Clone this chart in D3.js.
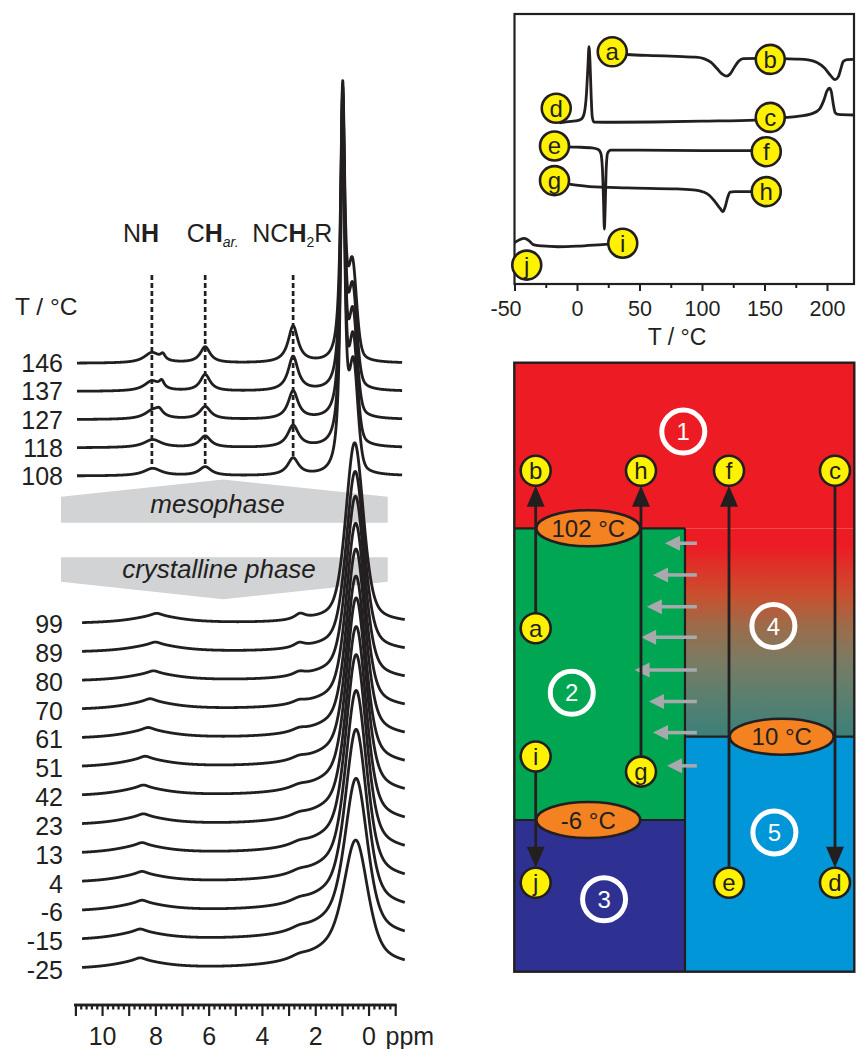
<!DOCTYPE html>
<html>
<head>
<meta charset="utf-8">
<script src="https://cdn.jsdelivr.net/npm/d3@7/dist/d3.min.js"></script>
<style>
  html, body { margin: 0; padding: 0; background: #fff; }
  svg { display: block; font-family: "Liberation Sans", Arial, Helvetica, sans-serif; }
</style>
</head>
<body>
<svg id="fig" width="857" height="1049"></svg>
<script>
// ================= DATA =================

// --- variable-temperature 1H NMR ---
const mesoTemps  = [146, 137, 127, 118, 108];
const crystTemps = [99, 89, 80, 70, 61, 51, 42, 23, 13, 4, -6, -15, -25];

// peak lists: [shift / ppm, intensity (main peak at 146 °C ≈ 100), FWHM / ppm, Lorentzian fraction]
const mesoPeaks = {
  146: [[8.13, 3.6, 0.70, 1], [7.72, 2.0, 0.22, 1], [6.13, 5.6, 0.45, 1], [2.83, 12.8, 0.45, 1], [0.97, 96,  0.19, 1], [0.60, 31, 0.36, 0.3]],
  137: [[8.13, 3.5, 0.70, 1], [7.76, 2.4, 0.22, 1], [6.13, 5.8, 0.45, 1], [2.83, 12.0, 0.45, 1], [0.97, 104, 0.19, 1], [0.59, 32, 0.36, 0.3]],
  127: [[8.08, 3.2, 0.75, 1], [7.85, 1.8, 0.30, 1], [6.13, 4.4, 0.50, 1], [2.83,  9.8, 0.45, 1], [0.97, 112, 0.19, 1], [0.58, 33, 0.36, 0.3]],
  118: [[8.10, 2.8, 0.80, 1], [6.13, 4.0, 0.50, 1], [2.83,  7.6, 0.50, 1], [0.97, 119, 0.19, 1], [0.57, 34, 0.36, 0.3]],
  108: [[8.10, 2.6, 0.80, 1], [6.13, 3.1, 0.55, 1], [2.83,  6.0, 0.50, 1], [0.97, 127, 0.19, 1], [0.56, 35, 0.38, 0.3]]
};
const crystPeaks = {
  99:  [[7.95, 2.6, 2.4, 1], [7.95, 1.0, 0.5, 1], [2.57, 2.0, 0.50, 1], [1.0, 1.75, 3.0, 1], [0.52, 61.9, 0.78, 0.4]],
  89:  [[8.00, 2.6, 2.4, 1], [8.00, 1.0, 0.5, 1], [2.60, 1.6, 0.50, 1], [1.0, 2.5,  3.0, 1], [0.50, 61.3, 0.79, 0.4]],
  80:  [[8.07, 2.6, 2.4, 1], [8.07, 1.0, 0.5, 1], [2.60, 1.3, 0.55, 1], [1.0, 3.2,  3.0, 1], [0.49, 62.1, 0.80, 0.4]],
  70:  [[8.20, 2.8, 2.4, 1], [8.20, 1.1, 0.5, 1], [2.60, 1.1, 0.60, 1], [1.0, 3.9,  3.0, 1], [0.48, 62.1, 0.81, 0.4]],
  61:  [[8.27, 2.8, 2.4, 1], [8.27, 1.1, 0.5, 1], [2.60, 1.1, 0.65, 1], [1.0, 4.6,  3.0, 1], [0.47, 62.6, 0.82, 0.4]],
  51:  [[8.38, 2.8, 2.4, 1], [8.38, 1.1, 0.5, 1], [2.60, 1.1, 0.70, 1], [1.0, 5.3,  3.0, 1], [0.47, 62.6, 0.83, 0.4]],
  42:  [[8.45, 2.8, 2.4, 1], [8.45, 1.1, 0.5, 1], [2.60, 1.1, 0.80, 1], [1.0, 5.6,  3.0, 1], [0.46, 64.8, 0.85, 0.4]],
  23:  [[8.45, 2.8, 2.4, 1], [8.45, 1.1, 0.5, 1], [2.60, 1.1, 0.80, 1], [1.0, 6.0,  3.0, 1], [0.46, 64.5, 0.86, 0.4]],
  13:  [[8.50, 2.8, 2.4, 1], [8.50, 1.1, 0.5, 1], [2.60, 1.1, 0.80, 1], [1.0, 6.3,  3.0, 1], [0.46, 64.5, 0.88, 0.4]],
  4:   [[8.50, 2.8, 2.4, 1], [8.50, 1.1, 0.5, 1], [2.60, 1.1, 0.80, 1], [1.0, 6.7,  3.0, 1], [0.46, 61.7, 0.90, 0.4]],
  "-6":  [[8.50, 2.8, 2.4, 1], [8.50, 1.1, 0.5, 1], [2.60, 1.1, 0.80, 1], [1.0, 7.0, 3.0, 1], [0.46, 57.9, 0.93, 0.4]],
  "-15": [[8.57, 2.8, 2.4, 1], [8.57, 1.1, 0.5, 1], [2.60, 1.1, 0.80, 1], [1.0, 7.7, 3.0, 1], [0.46, 50.2, 0.97, 0.4]],
  "-25": [[8.57, 2.8, 2.4, 1], [8.57, 1.1, 0.5, 1], [2.60, 1.1, 0.80, 1], [1.0, 8.4, 3.0, 1], [0.47, 38.0, 1.02, 0.4]]
};
const mesoWindow  = [10.94, -1.26];
const crystWindow = [10.75, -1.36];

// signal assignments (dashed guides)
const assignShifts = [8.13, 6.13, 2.83];

// ppm axis
const ppmMajor  = d3.range(-1, 11.001, 1);
const ppmLabels = [10, 8, 6, 4, 2, 0];

// --- DSC traces: [T / °C, heat flow / a.u.] ---
const dscAB = [[28.6,85.4],[40,85.0],[60,84.6],[80,84.3],[95,84.0],[102,83.4],[107,82.2],[112,79.8],[116,77.8],
  [119.5,77.0],[122.5,77.8],[126,80.4],[129.5,82.6],[133,83.5],[145,83.6],[160,83.5],[175,83.3],[185,83.0],
  [192,82.0],[198,80.0],[202.5,77.4],[206.5,75.7],[209,76.7],[211,79.6],[213,82.4],[216,83.1],[221,83.2]];
const dscDC = [[-14,59.7],[-5,60.2],[1,60.6],[4,61.3],[6,63.7],[7.5,70.0],[8.8,81.1],[9.6,87.9],[10.4,82.2],
  [11.3,70.0],[12.2,61.9],[13.5,60.0],[30,59.9],[60,60.0],[100,60.3],[143,60.7],[160,61.4],[175,62.0],
  [188,63.1],[194,64.8],[197.5,68.1],[200,71.5],[202,72.5],[203.5,71.1],[205,66.7],[206.5,63.5],[209,62.8],[221,62.6]];
const dscEF = [[-18,50.9],[0,50.7],[12,50.4],[17,49.8],[19,48.5],[20.3,43.0],[21.2,31.1],[21.9,20.3],[22.6,29.3],
  [23.4,43.0],[24.5,48.5],[27,49.6],[50,49.6],[100,49.4],[151,49.4]];
const dscGH = [[-18,37.9],[-5,36.9],[10,36.1],[40,35.6],[80,35.2],[95,34.8],[101,34.1],[106,32.8],[110.5,30.4],
  [114.5,28.0],[116.7,26.8],[118.5,28.5],[120.5,32.0],[122.5,34.0],[126,34.2],[151,34.2]];
const dscJI = [[-50,15.3],[-46,16.4],[-42,16.9],[-38.5,16.1],[-35,14.6],[-28,14.1],[-15,13.8],[0,14.0],[20,14.6],[36.6,15.1]];
const dscCurves = [dscAB, dscDC, dscEF, dscGH, dscJI];
// state markers on the traces: [letter, T, heat flow]
const dscMarks = [["a",28.2,86.0],["b",154.6,83.2],["c",154.6,61.7],["d",-16.6,65.1],["e",-18,51.1],
  ["f",151.4,49.0],["g",-18,38.3],["h",151.4,34.2],["i",36.6,15.1],["j",-40.2,7.0]];
const dscTicksMajor = [-50, 0, 50, 100, 150, 200];
const dscTicksMinor = [-25, 25, 75, 125, 175];

// --- phase scheme: columns in % of width, levels as temperature / °C ---
const phaseRegions = [
  { id: "1", x0: 0,    x1: 100,  t0: 220, t1: 102, fill: "#ED1C24" },
  { id: "4", x0: 50.2, x1: 100,  t0: 102, t1: 10,  fill: "url(#grad4)" },
  { id: "2", x0: 0,    x1: 50.2, t0: 102, t1: -6,  fill: "#00A651" },
  { id: "3", x0: 0,    x1: 50.2, t0: -6,  t1: -50, fill: "#2E3192" },
  { id: "5", x0: 50.2, x1: 100,  t0: 10,  t1: -50, fill: "#0096D8" }
];
const phaseNumbers = [["1",49.7,170.9],["4",76.2,58.9],["2",16.9,29.4],["3",26.4,-29],["5",76.5,-9.6]];
const transitions = [
  { t: 102, label: "102 °C", x0: 0,    x1: 50.2, cx: 21.76 },
  { t: 10,  label: "10 °C",  x0: 50.2, x1: 100,  cx: 78.65 },
  { t: -6,  label: "-6 °C",  x0: 0,    x1: 50.2, cx: 21.76 }
];
// heating / cooling runs: [from, to, column, T start, T end]
const runs = [["a","b",6.29,57.9,143],["g","h",37.26,3.3,143],["e","f",63.15,-24.2,143],
  ["c","d",94.32,143,-24.2],["i","j",6.29,6.2,-24.2]];
// slow conversion 4 -> 2: [level T, head column]
const conversion = [[95.4,44.3],[81.4,40.8],[67.4,39.0],[53.9,37.3],[39.5,35.4],[25.5,39.6],[11.8,40.8],[4.4,44.9]];
const conversionTail = 53.7;

// ================= DRAWING =================
const ink = "#231F20";
const svg = d3.select("#fig");
const defs = svg.append("defs");
const fmtHyphen = d => String(d);   // plain hyphen-minus for negative numbers

// ---------- NMR panel ----------
const xN = d3.scaleLinear().domain([11, -1]).range([75.4, 395.2]);
const yI = d3.scaleLinear().domain([0, 100]).range([0, 285]);
const yMeso  = d3.scalePoint().domain(mesoTemps).range([363.3, 476]);
const yCryst = d3.scalePoint().domain(crystTemps).range([624, 970]);

function pv(d, p) {
  const [c, h, w, eta] = p;
  const u = 2 * (d - c) / w;
  return h * (eta / (1 + u * u) + (1 - eta) * Math.exp(-Math.LN2 * u * u));
}
function spectrum(peaks, win) {
  const pts = [];
  for (let d = win[0]; d >= win[1] - 1e-9; d -= 0.005) pts.push([d, d3.sum(peaks, p => pv(d, p))]);
  return pts;
}

const nmr = svg.append("g");

// phase banners
const bannerX = { left: 11.54, apex: 5.46, right: -0.72 };
const banner = d3.line();
nmr.append("path")
  .attr("d", banner([[xN(bannerX.left), 522.7], [xN(bannerX.left), 496.7], [xN(bannerX.apex), 479.5],
                     [xN(bannerX.right), 496.7], [xN(bannerX.right), 522.7]]) + "Z")
  .attr("fill", "#D1D3D4");
nmr.append("path")
  .attr("d", banner([[xN(bannerX.left), 557.3], [xN(bannerX.right), 557.3], [xN(bannerX.right), 581.7],
                     [xN(bannerX.apex), 599.3], [xN(bannerX.left), 581.7]]) + "Z")
  .attr("fill", "#D1D3D4");
nmr.append("text").attr("x", 217.5).attr("y", 513.3).attr("text-anchor", "middle")
  .attr("font-size", 26).attr("font-style", "italic").attr("fill", ink).text("mesophase");
nmr.append("text").attr("x", 219).attr("y", 578.3).attr("text-anchor", "middle")
  .attr("font-size", 26).attr("font-style", "italic").attr("fill", ink).text("crystalline phase");

// dashed assignment guides down to the 108 °C spectrum
assignShifts.forEach(s => {
  const yEnd = yMeso(108) - yI(d3.sum(mesoPeaks[108], p => pv(s, p)));
  nmr.append("line").attr("x1", xN(s)).attr("x2", xN(s)).attr("y1", 275).attr("y2", yEnd)
    .attr("stroke", ink).attr("stroke-width", 2.7).attr("stroke-dasharray", "5,3");
});

const lineN = (base) => d3.line().x(d => xN(d[0])).y(d => base - yI(d[1]));

mesoTemps.forEach(t => {
  nmr.append("path").attr("d", lineN(yMeso(t))(spectrum(mesoPeaks[t], mesoWindow)))
    .attr("fill", "none").attr("stroke", ink).attr("stroke-width", 2.8).attr("stroke-linejoin", "round");
  nmr.append("text").attr("x", 63).attr("y", yMeso(t)).attr("dy", "0.36em").attr("text-anchor", "end")
    .attr("font-size", 25).attr("fill", ink).text(fmtHyphen(t));
});
crystTemps.forEach(t => {
  nmr.append("path").attr("d", lineN(yCryst(t))(spectrum(crystPeaks[t], crystWindow)))
    .attr("fill", "none").attr("stroke", ink).attr("stroke-width", 2.8).attr("stroke-linejoin", "round");
  nmr.append("text").attr("x", 63).attr("y", yCryst(t)).attr("dy", "0.36em").attr("text-anchor", "end")
    .attr("font-size", 25).attr("fill", ink).text(fmtHyphen(t));
});

// signal labels
const lab1 = nmr.append("text").attr("x", 123).attr("y", 242).attr("font-size", 25).attr("fill", ink);
lab1.append("tspan").text("N");
lab1.append("tspan").attr("font-weight", "bold").text("H");
const lab2 = nmr.append("text").attr("x", 186.7).attr("y", 242).attr("font-size", 25).attr("fill", ink);
lab2.append("tspan").text("C");
lab2.append("tspan").attr("font-weight", "bold").text("H");
lab2.append("tspan").attr("font-size", 14).attr("font-style", "italic").attr("dy", 5).text("ar.");
const lab3 = nmr.append("text").attr("x", 252.3).attr("y", 242).attr("font-size", 25).attr("fill", ink);
lab3.append("tspan").text("NC");
lab3.append("tspan").attr("font-weight", "bold").text("H");
lab3.append("tspan").attr("font-size", 14).attr("dy", 5).text("2");
lab3.append("tspan").attr("dy", -5).text("R");
nmr.append("text").attr("x", 15).attr("y", 315).attr("font-size", 24.5).attr("fill", ink).text("T / °C");

// ppm axis
const axN = nmr.append("g").attr("transform", "translate(0,1005)");
axN.call(d3.axisBottom(xN).tickValues(d3.range(-1, 11.001, 0.2)).tickSize(4.5).tickSizeOuter(0).tickFormat(""));
axN.call(g => g.selectAll(".tick").filter(d => ppmMajor.some(m => Math.abs(m - d) < 1e-6)).remove());
const axN2 = nmr.append("g").attr("transform", "translate(0,1005)");
axN2.call(d3.axisBottom(xN).tickValues(ppmMajor).tickSize(11).tickSizeOuter(0).tickPadding(11)
  .tickFormat(d => ppmLabels.includes(d) ? fmtHyphen(d) : ""));
[axN, axN2].forEach(g => {
  g.select(".domain").attr("stroke", ink).attr("stroke-width", 2.6).attr("d", `M${xN(11) - 1.3},0H${xN(-1) + 1.3}`);
  g.selectAll(".tick line").attr("stroke", ink).attr("stroke-width", 2.2);
  g.selectAll(".tick text").attr("font-size", 25).attr("fill", ink).attr("font-family", null);
});
nmr.append("text").attr("x", xN(0) + 17).attr("y", 1045).attr("font-size", 25).attr("fill", ink).text("ppm");

// ---------- DSC panel ----------
const xD = d3.scaleLinear().domain([-50, 221.6]).range([514.5, 854]);
const yD = d3.scaleLinear().domain([0, 100]).range([284, 14]);
const dsc = svg.append("g");
dsc.append("rect").attr("x", 514.5).attr("y", 14).attr("width", 339.5).attr("height", 270)
  .attr("fill", "none").attr("stroke", ink).attr("stroke-width", 2.2);
const lineD = d3.line().x(d => xD(d[0])).y(d => yD(d[1])).curve(d3.curveMonotoneX);
dscCurves.forEach(c => {
  dsc.append("path").attr("d", lineD(c)).attr("fill", "none").attr("stroke", ink)
    .attr("stroke-width", 2.8).attr("stroke-linejoin", "round");
});
const axD = dsc.append("g").attr("transform", "translate(0,284)");
axD.call(d3.axisBottom(xD).tickValues(dscTicksMajor).tickSize(7).tickSizeOuter(0).tickPadding(10).tickFormat(fmtHyphen));
axD.select(".domain").remove();
axD.selectAll(".tick line").attr("stroke", ink).attr("stroke-width", 2);
axD.selectAll(".tick text").attr("font-size", 21.5).attr("fill", ink).attr("font-family", null)
  .attr("dx", d => d < 0 ? -9 : 0);
const axDm = dsc.append("g").attr("transform", "translate(0,284)");
axDm.call(d3.axisBottom(xD).tickValues(dscTicksMinor).tickSize(4).tickSizeOuter(0).tickFormat(""));
axDm.select(".domain").remove();
axDm.selectAll(".tick line").attr("stroke", ink).attr("stroke-width", 2);
dsc.append("text").attr("x", 677).attr("y", 345).attr("text-anchor", "middle").attr("font-size", 23)
  .attr("fill", ink).text("T / °C");

function marker(g, x, y, letter, r) {
  g.append("circle").attr("cx", x).attr("cy", y).attr("r", r)
    .attr("fill", "#FFF200").attr("stroke", ink).attr("stroke-width", 2.6);
  g.append("text").attr("x", x).attr("y", y).attr("dy", "0.35em").attr("text-anchor", "middle")
    .attr("font-size", 24).attr("fill", ink).text(letter);
}
dscMarks.forEach(([l, t, v]) => marker(dsc, xD(t), yD(v), l, 14.5));

// ---------- phase scheme ----------
const sx = d3.scaleLinear().domain([0, 100]).range([514.3, 854.3]);
const sy = d3.scaleLinear().domain([-50, -6, 10, 102, 220]).range([971.7, 820, 736.7, 528.3, 362.7]);
const grad = defs.append("linearGradient").attr("id", "grad4").attr("x1", 0).attr("y1", 0).attr("x2", 0).attr("y2", 1);
[[0, "#ED1C24"], [0.09, "#ED1C24"], [0.32, "#C9502F"], [0.47, "#9C6C4A"], [0.63, "#7C7B62"], [0.79, "#5E7F6E"], [1, "#3B8079"]]
  .forEach(([o, c]) => grad.append("stop").attr("offset", o).attr("stop-color", c));

const ph = svg.append("g");
phaseRegions.forEach(r => {
  ph.append("rect").attr("x", sx(r.x0)).attr("y", sy(r.t0))
    .attr("width", sx(r.x1) - sx(r.x0)).attr("height", sy(r.t1) - sy(r.t0)).attr("fill", r.fill);
});
// phase boundaries
transitions.forEach(tr => {
  ph.append("line").attr("x1", sx(tr.x0)).attr("x2", sx(tr.x1)).attr("y1", sy(tr.t)).attr("y2", sy(tr.t))
    .attr("stroke", ink).attr("stroke-width", 2.2);
});
ph.append("line").attr("x1", sx(50.2)).attr("x2", sx(50.2)).attr("y1", sy(102)).attr("y2", sy(-50))
  .attr("stroke", ink).attr("stroke-width", 2.2);

// conversion arrows 4 -> 2
conversion.forEach(([t, head]) => {
  const y = sy(t), xh = sx(head), xt = sx(conversionTail);
  ph.append("line").attr("x1", xt).attr("x2", xh + 12).attr("y1", y).attr("y2", y)
    .attr("stroke", "#A7A9AC").attr("stroke-width", 3.5);
  ph.append("path").attr("d", `M${xh},${y}L${xh + 15},${y - 7.5}L${xh + 15},${y + 7.5}Z`).attr("fill", "#A7A9AC");
});

// heating / cooling runs
const R = 15;
runs.forEach(([from, to, col, t0, t1]) => {
  const x = sx(col), y0 = sy(t0), y1 = sy(t1);
  const dir = y1 < y0 ? -1 : 1;           // -1: upward
  const tipY = y1 - dir * R;
  ph.append("line").attr("x1", x).attr("x2", x).attr("y1", y0).attr("y2", tipY - dir * 16)
    .attr("stroke", ink).attr("stroke-width", 2.8);
  ph.append("path").attr("d", `M${x},${tipY}L${x - 9},${tipY - dir * 21}L${x + 9},${tipY - dir * 21}Z`).attr("fill", ink);
});

// transition temperatures
transitions.forEach(tr => {
  const cx = sx(tr.cx), cy = sy(tr.t);
  ph.append("ellipse").attr("cx", cx).attr("cy", cy).attr("rx", 52).attr("ry", 18)
    .attr("fill", "#F58220").attr("stroke", ink).attr("stroke-width", 2.6);
  ph.append("text").attr("x", cx).attr("y", cy).attr("dy", "0.36em").attr("text-anchor", "middle")
    .attr("font-size", 24).attr("fill", ink).text(tr.label);
});

// state markers
runs.forEach(([from, to, col, t0, t1]) => {
  marker(ph, sx(col), sy(t0), from, R);
  marker(ph, sx(col), sy(t1), to, R);
});

// phase numbers
phaseNumbers.forEach(([n, c, t]) => {
  ph.append("circle").attr("cx", sx(c)).attr("cy", sy(t)).attr("r", 21.5)
    .attr("fill", "none").attr("stroke", "#fff").attr("stroke-width", 5);
  ph.append("text").attr("x", sx(c)).attr("y", sy(t)).attr("dy", "0.36em").attr("text-anchor", "middle")
    .attr("font-size", 24).attr("fill", "#fff").text(n);
});

ph.append("rect").attr("x", sx(0)).attr("y", sy(220)).attr("width", sx(100) - sx(0)).attr("height", sy(-50) - sy(220))
  .attr("fill", "none").attr("stroke", ink).attr("stroke-width", 2.4);
</script>
</body>
</html>
